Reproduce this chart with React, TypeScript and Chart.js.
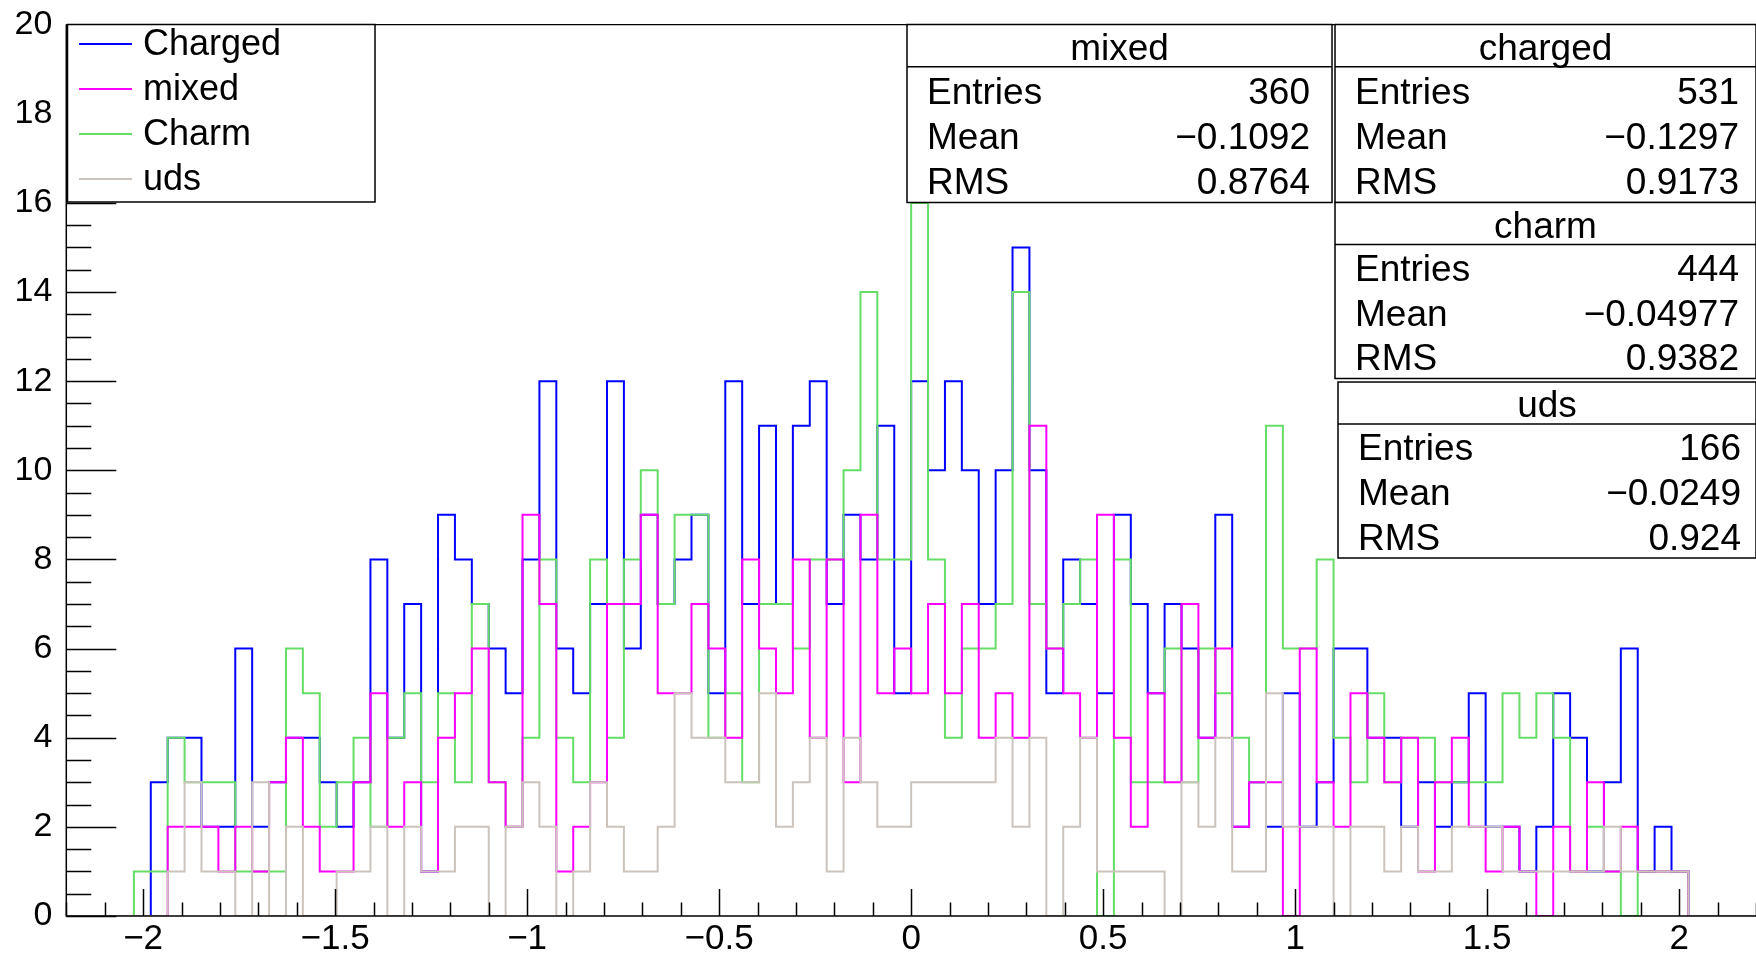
import React, { useEffect, useRef } from "react";
import { Chart, registerables } from "chart.js";

Chart.register(...registerables);

// ---- data -------------------------------------------------------------
const X_MIN = -2.2;
const X_MAX = 2.2;
const N_BINS = 100;

const charged = [
  0, 0, 0, 0, 0, 3, 4, 4, 2, 2, 6, 2, 3, 4, 4, 3, 2, 3, 8, 4,
  7, 1, 9, 8, 7, 6, 5, 8, 12, 6, 5, 7, 12, 6, 9, 7, 8, 9, 5, 12,
  7, 11, 7, 11, 12, 7, 9, 8, 11, 5, 12, 10, 12, 10, 7, 10, 15, 10, 5, 8,
  7, 5, 9, 7, 5, 7, 6, 4, 9, 2, 3, 2, 5, 2, 3, 6, 6, 4, 4, 2,
  3, 2, 3, 5, 2, 2, 1, 2, 5, 4, 1, 3, 6, 1, 2, 1, 0, 0, 0, 0,
];
const mixed = [
  0, 0, 0, 0, 0, 0, 2, 2, 2, 1, 2, 1, 3, 4, 2, 1, 1, 3, 5, 2,
  3, 1, 4, 5, 6, 3, 2, 9, 7, 1, 2, 3, 7, 7, 9, 5, 5, 7, 6, 4,
  8, 6, 5, 8, 4, 8, 3, 9, 5, 6, 5, 7, 5, 7, 4, 5, 4, 11, 6, 5,
  4, 9, 4, 2, 5, 3, 7, 4, 6, 2, 3, 3, 0, 6, 3, 2, 5, 4, 3, 4,
  1, 3, 4, 2, 1, 2, 1, 0, 2, 1, 3, 1, 2, 1, 1, 1, 0, 0, 0, 0,
];
const charm = [
  0, 0, 0, 0, 1, 1, 4, 3, 3, 3, 1, 1, 1, 6, 5, 2, 3, 4, 2, 4,
  5, 3, 5, 3, 7, 3, 2, 4, 8, 4, 3, 8, 4, 8, 10, 7, 9, 9, 4, 5,
  3, 7, 7, 6, 8, 8, 10, 14, 8, 8, 16, 8, 4, 6, 6, 7, 14, 7, 6, 7,
  8, 0, 8, 3, 3, 6, 3, 6, 5, 4, 3, 11, 6, 6, 8, 4, 3, 5, 3, 4,
  4, 3, 3, 3, 3, 5, 4, 5, 4, 1, 2, 1, 0, 1, 1, 1, 0, 0, 0, 0,
];
const uds = [
  0, 0, 0, 0, 0, 0, 1, 3, 1, 1, 0, 3, 0, 2, 0, 0, 1, 1, 2, 0,
  2, 1, 1, 2, 2, 0, 2, 3, 2, 0, 1, 3, 2, 1, 1, 2, 5, 4, 4, 3,
  3, 5, 2, 3, 4, 1, 4, 3, 2, 2, 3, 3, 3, 3, 3, 4, 2, 4, 0, 2,
  4, 1, 1, 1, 1, 0, 3, 2, 4, 1, 1, 5, 2, 2, 2, 0, 2, 2, 1, 2,
  1, 1, 2, 2, 2, 1, 1, 1, 1, 1, 1, 2, 1, 1, 1, 1, 0, 0, 0, 0,
];

const legendLabels = ["Charged", "mixed", "Charm", "uds"];
const seriesColors = ["#0000ff", "#ff00ff", "#66dd66", "#ccc4bc"];

const xTickValues = [-2, -1.5, -1, -0.5, 0, 0.5, 1, 1.5, 2];
const yTickValues = [0, 2, 4, 6, 8, 10, 12, 14, 16, 18, 20];

const statTitles = ["mixed", "charged", "charm", "uds"];
const statEntries = ["360", "531", "444", "166"];
const statMeans = ["\u22120.1092", "\u22120.1297", "\u22120.04977", "\u22120.0249"];
const statRms = ["0.8764", "0.9173", "0.9382", "0.924"];
const statRowLabels = ["Entries", "Mean", "RMS"];

// ---- helpers ----------------------------------------------------------
const FONT = '"Liberation Sans", Arial, Helvetica, sans-serif';

function histPoints(vals: number[]) {
  const w = (X_MAX - X_MIN) / N_BINS;
  const pts = vals.map((v, k) => ({ x: X_MIN + k * w, y: v }));
  pts.push({ x: X_MAX, y: vals[vals.length - 1] });
  return pts;
}

function fmtX(v: number) {
  if (Math.abs(v) < 1e-9) return "0";
  return v < 0 ? "\u2212" + String(Math.abs(v)) : String(v);
}

// ---- overlay plugin: frame, inward ticks, legend, stat boxes -----------
const rootDecor = {
  id: "rootDecor",
  afterDatasetsDraw(chart: any) {
    const { ctx, chartArea } = chart;
    const xs = chart.scales.x;
    const ys = chart.scales.y;
    ctx.save();
    ctx.strokeStyle = "#000";
    ctx.lineWidth = 1.5;

    // frame
    ctx.beginPath();
    ctx.moveTo(chartArea.left, chartArea.top);
    ctx.lineTo(chartArea.left, chartArea.bottom);
    ctx.lineTo(chartArea.right, chartArea.bottom);
    ctx.stroke();
    ctx.lineWidth = 1.2;
    ctx.beginPath();
    ctx.moveTo(chartArea.left, chartArea.top);
    ctx.lineTo(chartArea.right, chartArea.top);
    ctx.stroke();

    // y ticks (inward)
    ctx.lineWidth = 1.5;
    for (let i = 0; i <= 40; i++) {
      const v = i * 0.5;
      const py = Math.round(ys.getPixelForValue(v)) + 0.5;
      const len = i % 4 === 0 ? 50 : 25;
      ctx.beginPath();
      ctx.moveTo(chartArea.left, py);
      ctx.lineTo(chartArea.left + len, py);
      ctx.stroke();
    }
    // x ticks (inward)
    for (let i = -22; i <= 22; i++) {
      const v = i / 10;
      const px = Math.round(xs.getPixelForValue(v)) + 0.5;
      const len = i % 5 === 0 ? 27 : 13.5;
      ctx.beginPath();
      ctx.moveTo(px, chartArea.bottom);
      ctx.lineTo(px, chartArea.bottom - len);
      ctx.stroke();
    }

    // legend box
    const lx0 = 67.5, ly0 = 24.5, lx1 = 375, ly1 = 202;
    ctx.fillStyle = "#fff";
    ctx.fillRect(lx0, ly0, lx1 - lx0, ly1 - ly0);
    ctx.strokeStyle = "#000";
    ctx.lineWidth = 1.5;
    ctx.strokeRect(lx0, ly0, lx1 - lx0, ly1 - ly0);
    ctx.font = "36px " + FONT;
    ctx.textBaseline = "middle";
    ctx.textAlign = "left";
    const rowYs = [44, 89, 134, 179];
    legendLabels.forEach((lab, i) => {
      ctx.strokeStyle = seriesColors[i];
      ctx.lineWidth = 2;
      ctx.beginPath();
      ctx.moveTo(79, rowYs[i]);
      ctx.lineTo(132, rowYs[i]);
      ctx.stroke();
      ctx.fillStyle = "#000";
      ctx.fillText(lab, 143, rowYs[i] + 1);
    });

    // stat boxes
    const boxes = [
      { x0: 907, x1: 1332, y0: 24.5, y1: 202.5, lx: 927, rx: 1310 },
      { x0: 1335, x1: 1756, y0: 24.5, y1: 202.5, lx: 1355, rx: 1739 },
      { x0: 1335, x1: 1756, y0: 202.5, y1: 378.5, lx: 1355, rx: 1739 },
      { x0: 1338, x1: 1756, y0: 382, y1: 558, lx: 1358, rx: 1741 },
    ];
    boxes.forEach((b, i) => {
      const h = b.y1 - b.y0;
      ctx.fillStyle = "#fff";
      ctx.fillRect(b.x0, b.y0, b.x1 - b.x0, h);
      ctx.strokeStyle = "#000";
      ctx.lineWidth = 1.5;
      ctx.strokeRect(b.x0, b.y0, b.x1 - b.x0, h);
      const div = b.y0 + h * 0.238;
      ctx.beginPath();
      ctx.moveTo(b.x0, div);
      ctx.lineTo(b.x1, div);
      ctx.stroke();
      ctx.fillStyle = "#000";
      ctx.font = "37px " + FONT;
      ctx.textBaseline = "middle";
      ctx.textAlign = "center";
      ctx.fillText(statTitles[i], (b.x0 + b.x1) / 2, b.y0 + h * 0.125 + 3);
      const vals = [statEntries[i], statMeans[i], statRms[i]];
      const rowH = (b.y1 - div) / 3;
      statRowLabels.forEach((lab, r) => {
        const cy = div + rowH * (r + 0.5) + 4;
        ctx.textAlign = "left";
        ctx.fillText(lab, b.lx, cy);
        ctx.textAlign = "right";
        ctx.fillText(vals[r], b.rx, cy);
      });
    });
    ctx.restore();
  },
};

// ---- component ---------------------------------------------------------
export default function App() {
  const ref = useRef<HTMLCanvasElement>(null);

  useEffect(() => {
    document.body.style.margin = "0";
    const series = [charged, mixed, charm, uds];
    const drawOrder = [3, 1, 2, 0];
    const chart = new Chart(ref.current as HTMLCanvasElement, {
      type: "line",
      data: {
        datasets: series.map((vals, i) => ({
          label: legendLabels[i],
          data: histPoints(vals),
          borderColor: seriesColors[i],
          borderWidth: 2,
          stepped: "before" as const,
          pointRadius: 0,
          fill: false,
          tension: 0,
          order: drawOrder[i],
        })),
      },
      options: {
        animation: false,
        responsive: false,
        maintainAspectRatio: false,
        events: [],
        layout: { padding: { top: 24.6, right: 0, bottom: 0, left: 0 } },
        plugins: { legend: { display: false }, tooltip: { enabled: false } },
        scales: {
          x: {
            type: "linear",
            min: X_MIN,
            max: X_MAX,
            grid: { display: false, drawTicks: false },
            border: { display: false },
            afterBuildTicks: (s: any) => {
              s.ticks = xTickValues.map((v) => ({ value: v }));
            },
            afterFit: (s: any) => {
              s.height = 38;
              s.paddingLeft = 0;
              s.paddingRight = 0;
              s.paddingTop = 0;
              s.paddingBottom = 0;
            },
            ticks: {
              autoSkip: false,
              maxRotation: 0,
              color: "#000",
              padding: 2,
              font: { family: FONT, size: 35 },
              callback: (v: any) => fmtX(Number(v)),
            },
          },
          y: {
            type: "linear",
            min: 0,
            max: 20,
            grid: { display: false, drawTicks: false },
            border: { display: false },
            afterBuildTicks: (s: any) => {
              s.ticks = yTickValues.map((v) => ({ value: v }));
            },
            afterFit: (s: any) => {
              s.width = 66.3;
              s.paddingLeft = 0;
              s.paddingRight = 0;
              s.paddingTop = 0;
              s.paddingBottom = 0;
            },
            ticks: {
              autoSkip: false,
              color: "#000",
              padding: 14,
              font: { family: FONT, size: 34 },
              callback: (v: any) => String(v),
            },
          },
        },
      },
      plugins: [rootDecor],
    } as any);
    return () => chart.destroy();
  }, []);

  return (
    <div style={{ position: "absolute", left: 0, top: 0, width: 1756, height: 954, background: "#fff" }}>
      <canvas ref={ref} width={1756} height={954} style={{ display: "block", width: "1756px", height: "954px" }} />
    </div>
  );
}
